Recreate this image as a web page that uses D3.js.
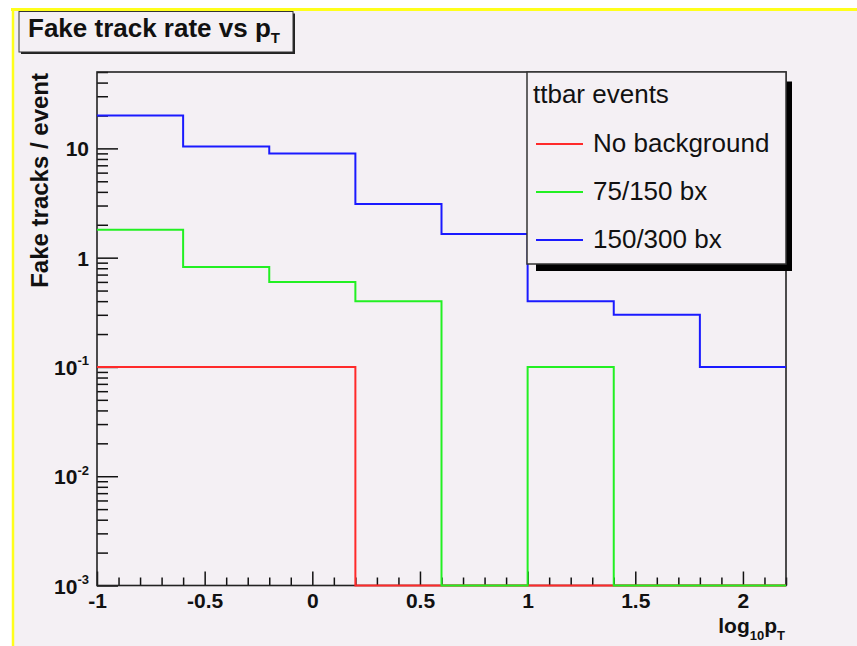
<!DOCTYPE html>
<html>
<head>
<meta charset="utf-8">
<script src="https://cdn.jsdelivr.net/npm/d3@7"></script>
<style>
    body { margin: 0; background: #ffffff; }
    svg { display: block; font-family: "Liberation Sans", Arial, Helvetica, sans-serif; }
</style>
</head>
<body>
<div id="chart"></div>
<script>
var width = 857
var height = 646
var frame = { left: 97, right: 786, top: 72, bottom: 585.5 };

// bin edges in log10(pT), one value per bin
var binEdges = [-1, -0.6, -0.2, 0.2, 0.6, 1.0, 1.4, 1.8, 2.2];
var noBackground = [0.1, 0.1, 0.1, 0, 0, 0, 0, 0];
var bx75 = [1.8, 0.82, 0.6, 0.4, 0, 0.1, 0, 0];
var bx150 = [20, 10.4, 9, 3.1, 1.65, 0.4, 0.3, 0.1];

var seriesNames = ["No background", "75/150 bx", "150/300 bx"];
var seriesColors = ["#ff2a2a", "#22f022", "#1a1aff"];
var legendHeader = "ttbar events";

var xTicks = [-1, -0.5, 0, 0.5, 1, 1.5, 2];
var xTickLabels = ["-1", "-0.5", "0", "0.5", "1", "1.5", "2"];
var yTicks = [1e-3, 1e-2, 1e-1, 1, 10];
var yTickBase = ["10", "10", "10", "1", "10"];
var yTickExp = ["-3", "-2", "-1", "", ""];

var bg = "#f4f0f4";

var svg = d3.select("#chart")
    .append("svg")
    .attr("width", width)
    .attr("height", height);

// canvas + yellow border
svg.append("rect")
    .attr("x", 12).attr("y", 9)
    .attr("width", width - 12).attr("height", height - 9)
    .attr("fill", bg);
svg.append("line")
    .attr("x1", 11).attr("x2", width).attr("y1", 9.5).attr("y2", 9.5)
    .attr("stroke", "#ffff1a").attr("stroke-width", 3);
svg.append("line")
    .attr("x1", 13).attr("x2", 13).attr("y1", 8).attr("y2", height)
    .attr("stroke", "#ffff1a").attr("stroke-width", 2.5);

var xScale = d3.scaleLinear()
    .domain([binEdges[0], binEdges[binEdges.length - 1]])
    .range([frame.left, frame.right]);

var yScale = d3.scaleLog()
    .domain([1e-3, 50])
    .range([frame.bottom, frame.top])
    .clamp(true);

// minor ticks
var xMinor = xScale.ticks(32).filter(function(d) {
    return xTicks.every(function(t) { return Math.abs(t - d) > 1e-6; });
});
var yMinor = yScale.ticks().filter(function(d) {
    return yTicks.every(function(t) { return Math.abs(t - d) / t > 1e-6; });
});

var xMinorAxis = svg.append("g")
    .attr("transform", "translate(0," + frame.bottom + ")")
    .call(d3.axisBottom(xScale).tickValues(xMinor).tickSizeInner(-8).tickSizeOuter(0).tickFormat(""));

var xAxis = svg.append("g")
    .attr("transform", "translate(0," + frame.bottom + ")")
    .call(d3.axisBottom(xScale)
        .tickValues(xTicks)
        .tickSizeInner(-14)
        .tickSizeOuter(0)
        .tickPadding(8)
        .tickFormat(function(d, i) { return xTickLabels[i]; }));

var yMinorAxis = svg.append("g")
    .attr("transform", "translate(" + frame.left + ",0)")
    .call(d3.axisLeft(yScale).tickValues(yMinor).tickSizeInner(-11).tickSizeOuter(0).tickFormat(""));

var yAxis = svg.append("g")
    .attr("transform", "translate(" + frame.left + ",0)")
    .call(d3.axisLeft(yScale)
        .tickValues(yTicks)
        .tickSizeInner(-21)
        .tickSizeOuter(0)
        .tickPadding(8)
        .tickFormat(""));

yAxis.selectAll(".tick text").each(function(d, i) {
    var t = d3.select(this)
        .attr("dy", "0.36em");
    t.append("tspan").text(yTickBase[i]);
    if (yTickExp[i]) {
        t.append("tspan")
            .attr("font-size", 13)
            .attr("dy", "-0.75em")
            .text(yTickExp[i]);
    }
});

[xMinorAxis, xAxis, yMinorAxis, yAxis].forEach(function(g) {
    g.select(".domain").remove();
    g.selectAll(".tick line").attr("stroke", "#111").attr("stroke-width", 1.5);
});
[xAxis, yAxis].forEach(function(g) {
    g.attr("font-size", 21)
        .attr("font-family", "'Liberation Sans', Arial, sans-serif");
    g.selectAll(".tick text")
        .attr("fill", "#111")
        .attr("font-size", 21)
        .attr("font-weight", "bold");
});

// frame
svg.append("rect")
    .attr("x", frame.left).attr("y", frame.top)
    .attr("width", frame.right - frame.left)
    .attr("height", frame.bottom - frame.top)
    .attr("fill", "none")
    .attr("stroke", "#222")
    .attr("stroke-width", 1.6);

// histograms as step lines
var line = d3.line()
    .x(function(d) { return xScale(d[0]); })
    .y(function(d) { return yScale(d[1]); })
    .curve(d3.curveStepAfter);

function histPoints(values) {
    var pts = values.map(function(v, i) { return [binEdges[i], v]; });
    pts.push([binEdges[binEdges.length - 1], values[values.length - 1]]);
    return pts;
}

[noBackground, bx75, bx150].forEach(function(values, i) {
    svg.append("path")
        .datum(histPoints(values))
        .attr("fill", "none")
        .attr("stroke", seriesColors[i])
        .attr("stroke-width", 2)
        .attr("d", line);
});

// axis titles
var xTitle = svg.append("text")
    .attr("x", 785)
    .attr("y", 633)
    .attr("text-anchor", "end")
    .attr("font-size", 21)
    .attr("font-weight", "bold")
    .attr("fill", "#111");
xTitle.append("tspan").text("log");
xTitle.append("tspan").attr("font-size", 13).attr("dy", 7).text("10");
xTitle.append("tspan").attr("dy", -7).text("p");
xTitle.append("tspan").attr("font-size", 13).attr("dy", 7).text("T");

svg.append("text")
    .attr("transform", "translate(48,73) rotate(-90)")
    .attr("text-anchor", "end")
    .attr("font-size", 24)
    .attr("font-weight", "bold")
    .attr("fill", "#111")
    .text("Fake tracks / event");

// title box
svg.append("rect")
    .attr("x", 21).attr("y", 13.5)
    .attr("width", 274).attr("height", 40.5)
    .attr("fill", "#222");
svg.append("rect")
    .attr("x", 19).attr("y", 11.5)
    .attr("width", 274).attr("height", 40.5)
    .attr("fill", bg)
    .attr("stroke", "#333")
    .attr("stroke-width", 1);
var title = svg.append("text")
    .attr("x", 28)
    .attr("y", 37)
    .attr("font-size", 26)
    .attr("font-weight", "bold")
    .attr("fill", "#111");
title.append("tspan").text("Fake track rate vs p");
title.append("tspan").attr("font-size", 15).attr("dy", 6).text("T");

// legend
var legend = { x: 527, y: 72, w: 259, h: 192 };
svg.append("rect")
    .attr("x", legend.x + 9).attr("y", legend.y + 9.5)
    .attr("width", legend.w - 3).attr("height", legend.h - 2.5)
    .attr("fill", "#000");
svg.append("rect")
    .attr("x", legend.x).attr("y", legend.y)
    .attr("width", legend.w).attr("height", legend.h)
    .attr("fill", bg)
    .attr("stroke", "#333")
    .attr("stroke-width", 1.5);

svg.append("text")
    .attr("x", legend.x + 6)
    .attr("y", legend.y + 31)
    .attr("font-size", 26)
    .attr("fill", "#111")
    .text(legendHeader);

seriesNames.forEach(function(name, i) {
    var yy = legend.y + 72 + i * 48;
    svg.append("line")
        .attr("x1", legend.x + 9).attr("x2", legend.x + 56)
        .attr("y1", yy).attr("y2", yy)
        .attr("stroke", seriesColors[i])
        .attr("stroke-width", 2);
    svg.append("text")
        .attr("x", legend.x + 66)
        .attr("y", yy + 8)
        .attr("font-size", 26)
        .attr("fill", "#111")
        .text(name);
});
</script>
</body>
</html>
